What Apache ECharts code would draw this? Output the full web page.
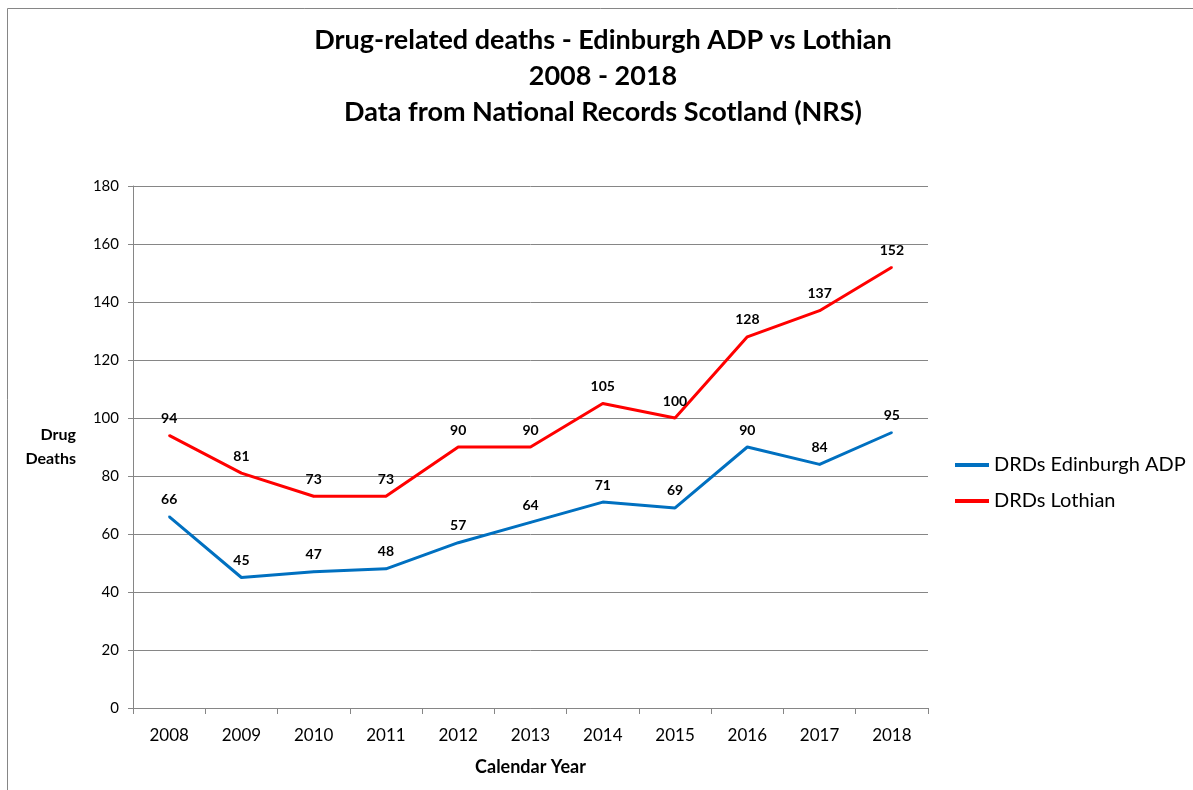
<!DOCTYPE html>
<html lang="en" style="height: 100%">
<head>
  <meta charset="utf-8">
  <script src="https://cdn.jsdelivr.net/npm/echarts@6/dist/echarts.min.js"></script>
</head>
<body style="height: 100%; margin: 0; background: #fff">
  <div id="container" style="width: 1193px; height: 790px"></div>
  <script type="text/javascript">
    var years = ['2008', '2009', '2010', '2011', '2012', '2013', '2014', '2015', '2016', '2017', '2018'];
    var edinburgh = [66, 45, 47, 48, 57, 64, 71, 69, 90, 84, 95];
    var lothian = [94, 81, 73, 73, 90, 90, 105, 100, 128, 137, 152];
    var seriesNames = ['DRDs Edinburgh ADP', 'DRDs Lothian'];

    var font = 'Lato, "Open Sans", sans-serif';
    var myChart = echarts.init(document.getElementById('container'), null, { renderer: 'canvas' });

    var labelStyle = {
      show: true,
      position: 'top',
      distance: 9,
      fontFamily: font,
      fontWeight: 'bold',
      fontSize: 14,
      color: '#000'
    };

    var option = {
      animation: false,
      textStyle: { fontFamily: font },
      graphic: [{
        type: 'rect',
        shape: { x: 7.5, y: 8.5, width: 1200, height: 800 },
        style: { fill: 'none', stroke: '#868686', lineWidth: 1 },
        z: -1
      }],
      title: {
        text: 'Drug-related deaths - Edinburgh ADP vs Lothian\n2008 - 2018\nData from National Records Scotland (NRS)',
        left: 598,
        top: 17,
        textAlign: 'center',
        textStyle: {
          fontFamily: font,
          fontWeight: 'bold',
          fontSize: 27,
          lineHeight: 36,
          color: '#000'
        }
      },
      legend: {
        orient: 'vertical',
        left: 950,
        top: 450,
        itemWidth: 34,
        itemHeight: 4,
        itemGap: 16,
        icon: 'rect',
        textStyle: { fontFamily: font, fontSize: 20, color: '#000' },
        data: seriesNames
      },
      grid: { left: 133, right: 265, top: 186, bottom: 82 },
      xAxis: {
        type: 'category',
        data: years,
        boundaryGap: true,
        name: 'Calendar Year',
        nameLocation: 'middle',
        nameGap: 50,
        nameTextStyle: { fontFamily: font, fontWeight: 'bold', fontSize: 18, color: '#000' },
        axisLine: { lineStyle: { color: '#868686' } },
        axisTick: { show: true, length: 6, lineStyle: { color: '#868686' } },
        axisLabel: { color: '#000', fontSize: 17, margin: 19, fontFamily: font }
      },
      yAxis: {
        type: 'value',
        min: 0,
        max: 180,
        interval: 20,
        name: 'Drug\nDeaths',
        nameLocation: 'middle',
        nameRotate: 0,
        nameGap: 57,
        nameTextStyle: { fontFamily: font, fontWeight: 'bold', fontSize: 16, color: '#000', lineHeight: 24 },
        axisLine: { show: true, lineStyle: { color: '#868686' } },
        axisTick: { show: true, length: 5, lineStyle: { color: '#868686' } },
        axisLabel: { color: '#000', fontSize: 15, margin: 14, fontFamily: font },
        splitLine: { lineStyle: { color: '#868686' } }
      },
      series: [
        {
          name: seriesNames[0],
          type: 'line',
          data: edinburgh,
          symbol: 'circle',
          symbolSize: 2,
          showSymbol: true,
          color: '#0070c0',
          lineStyle: { width: 3, color: '#0070c0' },
          label: labelStyle
        },
        {
          name: seriesNames[1],
          type: 'line',
          data: lothian,
          symbol: 'circle',
          symbolSize: 2,
          showSymbol: true,
          color: '#ff0000',
          lineStyle: { width: 3, color: '#ff0000' },
          label: labelStyle
        }
      ]
    };

    myChart.setOption(option);
    window.addEventListener('resize', myChart.resize);
  </script>
</body>
</html>
